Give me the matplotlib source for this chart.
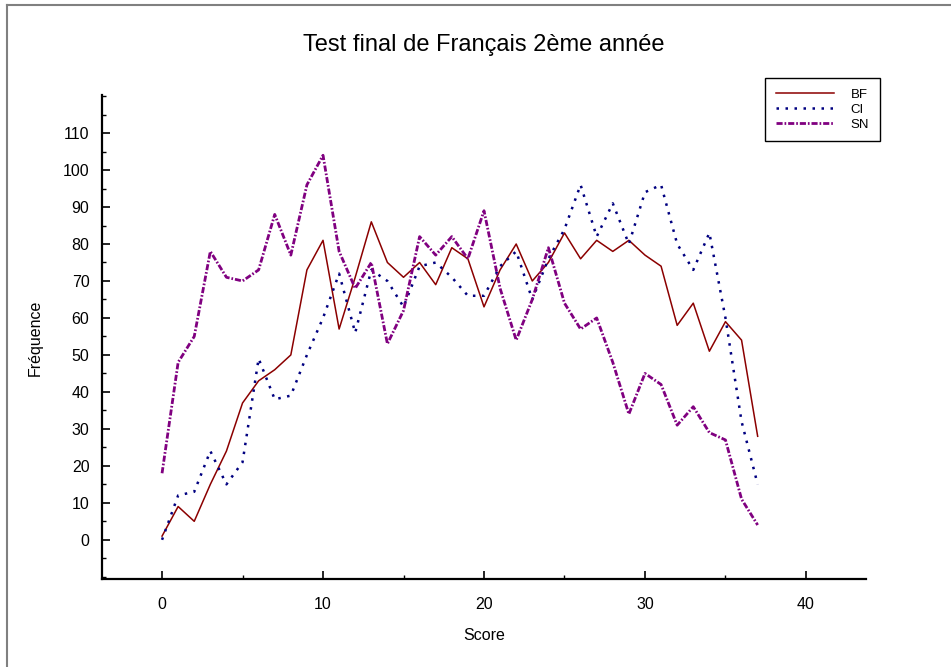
import matplotlib
matplotlib.use('Agg')
import matplotlib.pyplot as plt
from matplotlib.lines import Line2D
from matplotlib.ticker import MultipleLocator

plt.rcParams['font.family'] = ['Liberation Sans', 'DejaVu Sans']

scores = list(range(38))
bf = [1, 9, 5, 15, 24, 37, 43, 46, 50, 73, 81, 57, 71, 86, 75, 71, 75, 69, 79, 76,
      63, 73, 80, 70, 75, 83, 76, 81, 78, 81, 77, 74, 58, 64, 51, 59, 54, 28]
ci = [0, 12, 13, 24, 15, 21, 49, 38, 39, 50, 60, 72, 56, 73, 70, 63, 74, 75, 71, 66,
      66, 74, 78, 65, 76, 84, 96, 82, 91, 80, 94, 96, 80, 73, 83, 60, 32, 15]
sn = [18, 48, 55, 78, 71, 70, 73, 88, 77, 96, 104, 78, 68, 75, 53, 62, 82, 77, 82, 76,
      89, 68, 54, 65, 79, 64, 57, 60, 48, 34, 45, 42, 31, 36, 29, 27, 11, 4]

W, H = 951, 667
fig = plt.figure(figsize=(W / 100, H / 100), dpi=100)
ax = fig.add_axes([102 / W, 1 - 579 / H, (866 - 102) / W, (579 - 95) / H])

ax.plot(scores, bf, color='#8b0000', lw=1.1, label='BF')
ax.plot(scores, ci, color='#000080', lw=1.8, linestyle=(0, (1, 2.6)), label='CI')
ax.plot(scores, sn, color='#800080', lw=2.0, linestyle=(0, (2.2, 0.7, 0.6, 0.7)), label='SN')

ax.set_xlim(-3.73, 43.73)
ax.set_ylim(-10.6, 120.3)
ax.xaxis.set_major_locator(MultipleLocator(10))
ax.xaxis.set_minor_locator(MultipleLocator(5))
ax.yaxis.set_minor_locator(MultipleLocator(5))
ax.set_yticks(range(0, 111, 10))

for side in ['top', 'right']:
    ax.spines[side].set_visible(False)
for side in ['left', 'bottom']:
    ax.spines[side].set_linewidth(1.6)
ax.tick_params(which='major', direction='in', length=6, width=1.2, labelsize=11.5)
ax.tick_params(which='minor', direction='in', length=3, width=1.0)
ax.tick_params(axis='x', which='major', pad=13)
ax.tick_params(axis='y', which='major', pad=9)

fig.text(484 / W, 1 - 45 / H, 'Test final de Français 2ème année',
         ha='center', va='center', fontsize=17)
fig.text(484 / W, 1 - 635 / H, 'Score', ha='center', va='center', fontsize=11.5)
fig.text(35 / W, 1 - 338 / H, 'Fréquence', ha='center', va='center',
         rotation=90, fontsize=11.5)

leg = ax.legend(loc='upper left', bbox_to_anchor=(765 / W, 1 - 78 / H),
                bbox_transform=fig.transFigure, fontsize=9.5, handlelength=4.4,
                handletextpad=1.3, labelspacing=0.2, borderpad=0.8,
                borderaxespad=0, fancybox=False, framealpha=1)
leg.get_frame().set_edgecolor('black')
leg.get_frame().set_linewidth(1.0)

# grey frame around the whole figure (top and left edges visible)
fig.add_artist(Line2D([7 / W, 1], [1 - 5 / H, 1 - 5 / H], color='#808080', lw=1.5,
                      transform=fig.transFigure))
fig.add_artist(Line2D([7 / W, 7 / W], [0, 1 - 5 / H], color='#808080', lw=1.5,
                      transform=fig.transFigure))

fig.savefig('out.png', dpi=100)
